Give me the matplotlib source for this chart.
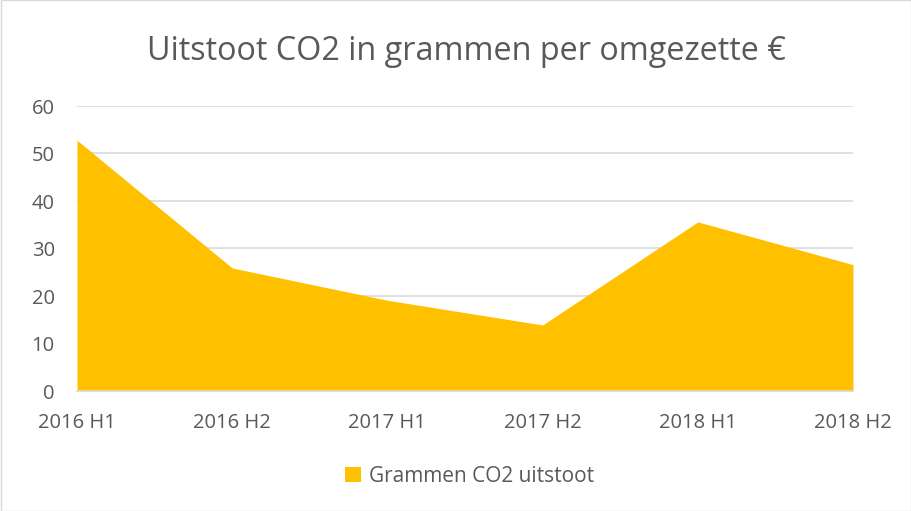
import matplotlib
matplotlib.use("Agg")
import matplotlib.pyplot as plt
from matplotlib.patches import Rectangle

categories = ["2016 H1", "2016 H2", "2017 H1", "2017 H2", "2018 H1", "2018 H2"]
values = [52.8, 25.9, 19.1, 13.9, 35.6, 26.6]
series_name = "Grammen CO2 uitstoot"
title = "Uitstoot CO2 in grammen per omgezette €"

plt.rcParams['font.family'] = ['Open Sans', 'DejaVu Sans']
txt = '#595959'

fig = plt.figure(figsize=(9.11, 5.11), dpi=100)
ax = fig.add_axes([77/911, 1-391/511, (853-77)/911, (391-106)/511])

x = list(range(len(categories)))
ax.fill_between(x, values, 0, color='#FFC000', linewidth=0, label=series_name, zorder=2)
ax.set_xlim(0, len(categories)-1)
ax.set_ylim(0, 60)
ax.set_yticks(range(0, 61, 10))
ax.set_xticks(x)
ax.set_xticklabels(categories)
ax.grid(axis='y', color='#D9D9D9', linewidth=1.2, zorder=0)
ax.set_axisbelow(True)
for s in ['top', 'right', 'left']:
    ax.spines[s].set_visible(False)
ax.spines['bottom'].set_color('#D9D9D9')
ax.spines['bottom'].set_linewidth(1.2)
ax.tick_params(axis='both', length=0, labelsize=14.5, colors=txt)
ax.tick_params(axis='x', pad=16)
ax.tick_params(axis='y', pad=16)

fig.text(466.5/911, 1-51/511, title, ha='center', va='center', fontsize=23.3, color=txt)

leg = fig.legend(loc='center', bbox_to_anchor=(469.5/911, 1-476/511), frameon=False,
                 fontsize=15, handlelength=0.75, handleheight=0.75, handletextpad=0.4)
for t in leg.get_texts():
    t.set_color(txt)

fig.patches.append(Rectangle((0.5/911, 0.5/511), 1-1/911, 1-1/511, transform=fig.transFigure,
                             fill=False, edgecolor='#D9D9D9', linewidth=1))

fig.savefig('out.png', dpi=100, facecolor='white')
